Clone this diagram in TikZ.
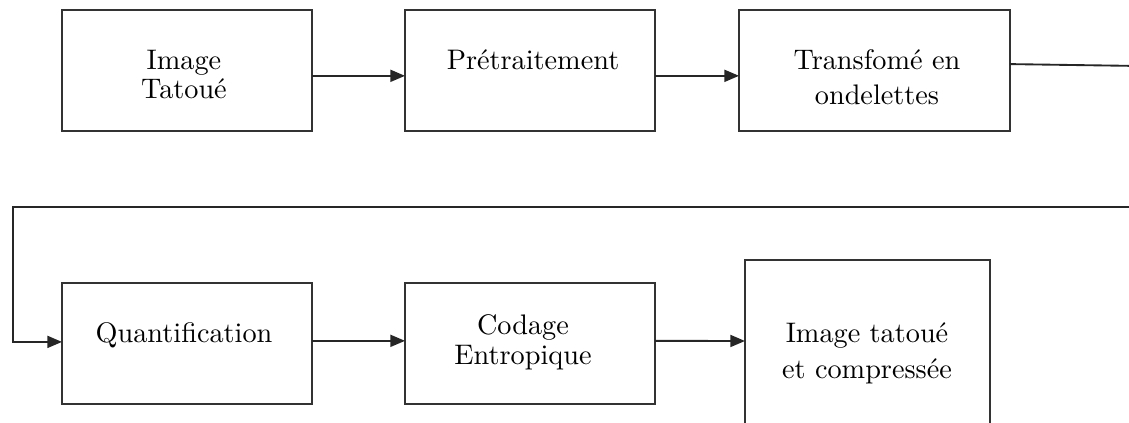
\documentclass[tikz,border=0pt]{standalone}
\usetikzlibrary{arrows.meta}

\begin{document}
\begin{tikzpicture}[
      x=0.375pt, y=-0.375pt,
      % the processing blocks
      block/.style={draw=black!80, line width=0.75pt, rectangle, outer sep=0pt,
                    minimum width=93.75pt, minimum height=45.4pt},
      % their captions, placed by the baseline of the last line
      caption/.style={anchor=base, align=center, inner sep=0pt,
                      font=\fontsize{10.6}{11.2}\selectfont},
      link/.style={draw=black!85, line width=0.7pt},
      >={Triangle[length=5.5pt,width=4.5pt]}
  ]
  \clip (0,0) rectangle (1129,423);

  %%%%%%%%%%%%%%%%%%%%%%%%%%%%%%%%%%%%%%%%%%%%%%%%%%%%%%%%
  % (1) first row
  %%%%%%%%%%%%%%%%%%%%%%%%%%%%%%%%%%%%%%%%%%%%%%%%%%%%%%%%
  \node[block] (tatoue)  at (187,70.5)   {};
  \node[block] (pretrt)  at (530,70.5)   {};
  \node[block, minimum width=101.6pt] (ondel) at (874.5,70.5) {};

  \node[caption] (tatoueT) at (184,99)  {Image\\Tatoué};
  \node[caption] (pretrtT) at (533,70)  {Prétraitement};
  \node[caption] (ondelT)  at (877,105) {Transfomé en\\[2pt]ondelettes};

  \draw[link,->] ([yshift=-2pt]tatoue.east) -- ([yshift=-2pt]pretrt.west);
  \draw[link,->] ([yshift=-2pt]pretrt.east) -- ([yshift=-2pt]ondel.west);

  %%%%%%%%%%%%%%%%%%%%%%%%%%%%%%%%%%%%%%%%%%%%%%%%%%%%%%%%
  % return line from the end of row 1 to row 2
  %%%%%%%%%%%%%%%%%%%%%%%%%%%%%%%%%%%%%%%%%%%%%%%%%%%%%%%%
  \coordinate (outR)  at (1140,66);
  \coordinate (backR) at (1140,207);
  \coordinate (backL) at (13,207);

  \draw[link] ([yshift=2.4pt]ondel.east) -- (outR);

  %%%%%%%%%%%%%%%%%%%%%%%%%%%%%%%%%%%%%%%%%%%%%%%%%%%%%%%%
  % (2) second row
  %%%%%%%%%%%%%%%%%%%%%%%%%%%%%%%%%%%%%%%%%%%%%%%%%%%%%%%%
  \node[block] (quant)   at (187,343.5)  {};
  \node[block] (entrop)  at (530,343.5)  {};
  \node[block, minimum width=91.9pt, minimum height=71.25pt] (compr) at (867.5,355) {};

  \node[caption] (quantT)  at (184,342) {Quantification};
  \node[caption] (entropT) at (523,364) {Codage\\Entropique};
  \node[caption] (comprT)  at (867,378) {Image tatoué\\[2pt]et compressée};

  \draw[link,->] (backR) -- (backL) |- ([yshift=0.6pt]quant.west);
  \draw[link,->] ([yshift=1pt]quant.east)  -- ([yshift=1pt]entrop.west);
  \draw[link,->] ([yshift=1pt]entrop.east) -- (compr.west |- 0,341);

\end{tikzpicture}
\end{document}
